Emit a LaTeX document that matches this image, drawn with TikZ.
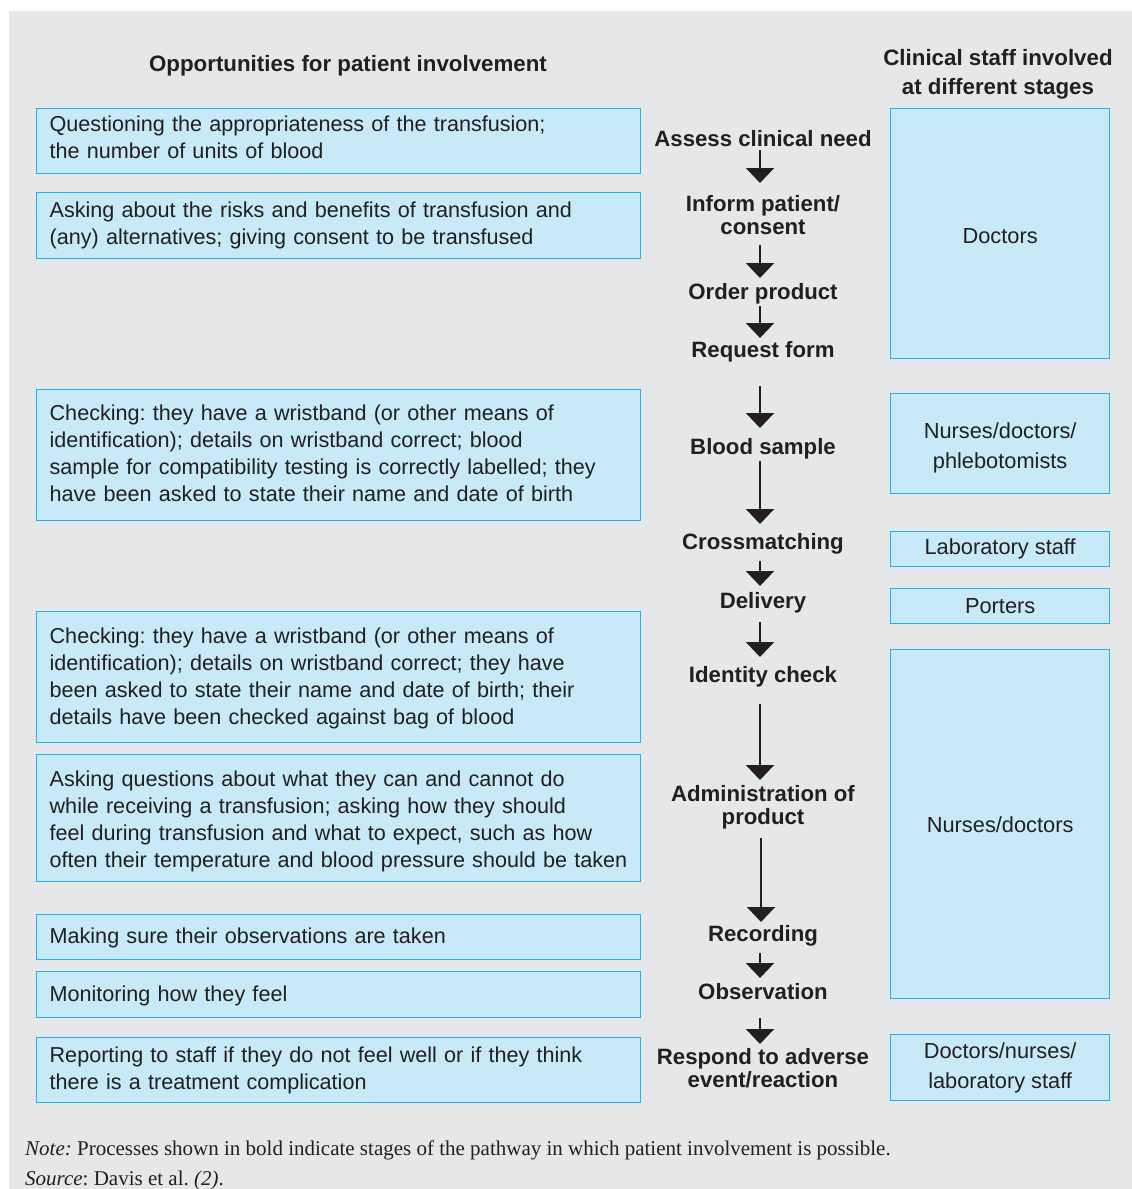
\documentclass[tikz,border=0pt]{standalone}
\usepackage{fontspec}
\setmainfont{Liberation Sans}
\newfontfamily\notefont{Liberation Serif}
\usetikzlibrary{arrows.meta}
\frenchspacing
\definecolor{panelgray}{HTML}{E6E7E9}
\definecolor{boxfill}{HTML}{C7E9F8}
\definecolor{boxline}{HTML}{22B2E8}
\definecolor{inkdark}{HTML}{231F20}
% left-aligned block of lines, optionally nudged up or down
\newcommand{\plines}[2][0pt]{\raisebox{#1}[\height][\depth]{\begin{tabular}{@{}l@{}}#2\end{tabular}}}
\tikzset{
  panel/.style={draw=boxline, fill=boxfill, line width=1.3pt},
  patbox/.style={panel, anchor=north west, minimum width=604pt, inner xsep=13pt,
    inner ysep=0pt, text width=578pt, align=left, text=inkdark,
    font=\fontsize{21.6}{27}\selectfont},
  staffbox/.style={panel, anchor=north west, minimum width=219pt, inner sep=0pt,
    align=center, text=inkdark, font=\fontsize{21.8}{30}\selectfont},
  stage/.style={inner sep=0pt, align=center, text=inkdark,
    font=\fontsize{22.2}{23}\selectfont\bfseries},
  stage1/.style={stage, text depth=0pt},
  heading/.style={inner sep=0pt, align=center, text=inkdark,
    font=\fontsize{22.3}{29}\selectfont\bfseries},
  flow/.style={draw=inkdark, line width=2pt, -{Triangle[width=28pt,length=15pt]}},
  footnote/.style={inner sep=0pt, anchor=west, text=inkdark,
    font=\notefont\fontsize{21}{24}\selectfont},
}
\begin{document}
\begin{tikzpicture}[x=1pt,y=-1pt]
\useasboundingbox (0,0) rectangle (1132,1189);
\fill[white] (0,0) rectangle (1132,1189);
\fill[panelgray] (9,11) rectangle (1132,1189);

% column headings
\node[heading] (hleft) at (348,66) {Opportunities for patient involvement};
\node[heading] (hright) at (998,74.5) {Clinical staff involved\\at different stages};

% patient involvement boxes
\node[patbox, minimum height=65pt] (p1) at (36,108)
  {\plines[2pt]{Questioning the appropriateness of the transfusion;\\the number of units of blood}};
\node[patbox, minimum height=66pt] (p2) at (36,192)
  {\plines{Asking about the risks and benefits of transfusion and\\(any) alternatives; giving consent to be transfused}};
\node[patbox, minimum height=131pt] (p3) at (36,389)
  {\plines{Checking: they have a wristband (or other means of\\identification); details on wristband correct; blood\\sample for compatibility testing is correctly labelled; they\\have been asked to state their name and date of birth}};
\node[patbox, minimum height=131pt] (p4) at (36,611)
  {\plines[-1pt]{Checking: they have a wristband (or other means of\\identification); details on wristband correct; they have\\been asked to state their name and date of birth; their\\details have been checked against bag of blood}};
\node[patbox, minimum height=127pt] (p5) at (36,754)
  {\plines[-3pt]{Asking questions about what they can and cannot do\\while receiving a transfusion; asking how they should\\feel during transfusion and what to expect, such as how\\often their temperature and blood pressure should be taken}};
\node[patbox, minimum height=45pt] (p6) at (36,914)
  {\plines[-1pt]{Making sure their observations are taken}};
\node[patbox, minimum height=46pt] (p7) at (36,971)
  {\plines[-1pt]{Monitoring how they feel}};
\node[patbox, minimum height=65pt] (p8) at (36,1037)
  {\plines{Reporting to staff if they do not feel well or if they think\\there is a treatment complication}};

% pathway stages
\node[stage1] (s1) at (763,138) {Assess clinical need};
\node[stage] (s2) at (763,215.5) {Inform patient/\\consent};
\node[stage1] (s3) at (763,291) {Order product};
\node[stage1] (s4) at (763,349) {Request form};
\node[stage1] (s5) at (763,446) {Blood sample};
\node[stage1] (s6) at (763,541) {Crossmatching};
\node[stage1] (s7) at (763,600) {Delivery};
\node[stage1] (s8) at (763,674) {Identity check};
\node[stage] (s9) at (763,807.5) {Administration of\\product};
\node[stage1] (s10) at (763,933) {Recording};
\node[stage1] (s11) at (763,991) {Observation};
\node[stage] (s12) at (763,1068) {Respond to adverse\\event/reaction};

% arrows between stages
\draw[flow] ([xshift=-3pt,yshift=-12pt]s1.center) -- ([xshift=-3pt,yshift=32.5pt]s2.center);
\draw[flow] ([xshift=-3pt,yshift=-29.5pt]s2.center) -- ([xshift=-3pt,yshift=13pt]s3.center);
\draw[flow] ([xshift=-3pt,yshift=-15pt]s3.center) -- ([xshift=-3pt,yshift=11pt]s4.center);
\draw[flow] ([xshift=-3pt,yshift=-37pt]s4.center) -- ([xshift=-3pt,yshift=18pt]s5.center);
\draw[flow] ([xshift=-3pt,yshift=-15pt]s5.center) -- ([xshift=-3pt,yshift=17pt]s6.center);
\draw[flow] ([xshift=-3pt,yshift=-20pt]s6.center) -- ([xshift=-3pt,yshift=14pt]s7.center);
\draw[flow] ([xshift=-3pt,yshift=-22pt]s7.center) -- ([xshift=-3pt,yshift=17pt]s8.center);
\draw[flow] ([xshift=-3pt,yshift=-30pt]s8.center) -- ([xshift=-3pt,yshift=27.5pt]s9.center);
\draw[flow] ([xshift=-2pt,yshift=-30.5pt]s9.center) -- ([xshift=-2pt,yshift=11pt]s10.center);
\draw[flow] ([xshift=-3pt,yshift=-20pt]s10.center) -- ([xshift=-3pt,yshift=13pt]s11.center);
\draw[flow] ([xshift=-3pt,yshift=-27pt]s11.center) -- ([xshift=-3pt,yshift=24pt]s12.center);

% clinical staff boxes
\node[staffbox, minimum height=250pt] (r1) at (890,108) {\raisebox{-2pt}[\height][\depth]{Doctors}};
\node[staffbox, minimum height=100pt] (r2) at (890,393) {\raisebox{-4pt}[\height][\depth]{\begin{tabular}{@{}c@{}}Nurses/doctors/\\phlebotomists\end{tabular}}};
\node[staffbox, minimum height=35pt] (r3) at (890,531) {Laboratory staff};
\node[staffbox, minimum height=35pt] (r4) at (890,588) {Porters};
\node[staffbox, minimum height=349pt] (r5) at (890,649) {\raisebox{-1pt}[\height][\depth]{Nurses/doctors}};
\node[staffbox, minimum height=66pt] (r6) at (890,1034) {Doctors/nurses/\\laboratory staff};

% notes below the chart
\node[footnote] (note) at (25,1150) {\textit{Note:} Processes shown in bold indicate stages of the pathway in which patient involvement is possible.};
\node[footnote] (source) at (25,1180) {\textit{Source}: Davis et al. \textit{(2)}.};
\end{tikzpicture}
\end{document}
